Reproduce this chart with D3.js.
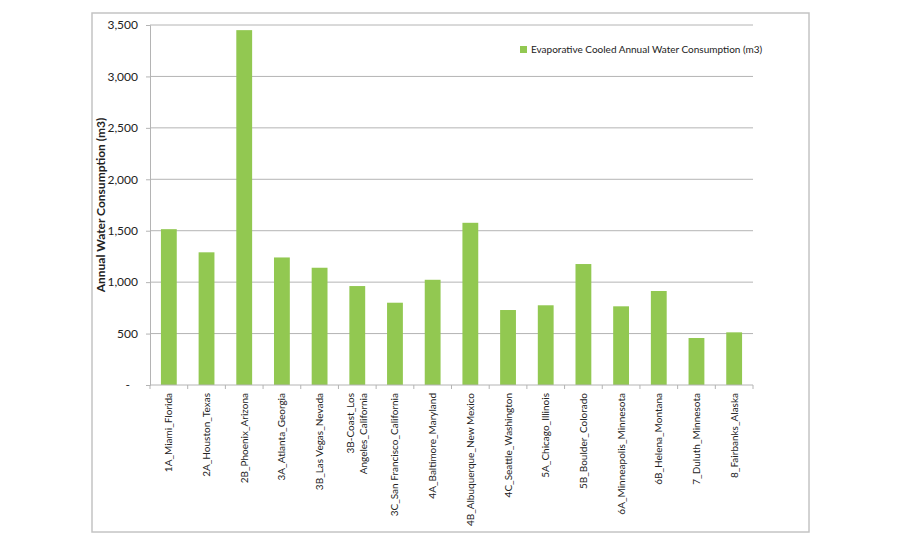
<!DOCTYPE html>
<html>
<head>
<meta charset="utf-8">
<script src="https://cdn.jsdelivr.net/npm/d3@7"></script>
<style>
  body { margin: 0; background: #fff; }
  svg text { font-family: Lato, "Open Sans", sans-serif; fill: #222; }
</style>
</head>
<body>
<div id="chart"></div>
<script>
// categories (climate zone_city_state)
var cities = ["1A_Miami_Florida", "2A_Houston_Texas", "2B_Phoenix_Arizona", "3A_Atlanta_Georgia",
    "3B_Las Vegas_Nevada", "3B-Coast_Los Angeles_California", "3C_San Francisco_California",
    "4A_Baltimore_Maryland", "4B_Albuquerque_New Mexico", "4C_Seattle_Washington",
    "5A_Chicago_Illinois", "5B_Boulder_Colorado", "6A_Minneapolis_Minnesota",
    "6B_Helena_Montana", "7_Duluth_Minnesota", "8_Fairbanks_Alaska"];
// evaporative cooled annual water consumption (m3)
var waterUse = [1515, 1290, 3450, 1240, 1140, 962, 800, 1023, 1577, 729, 775, 1176, 765, 914, 457, 512];
var yTicks = [0, 500, 1000, 1500, 2000, 2500, 3000, 3500];
var seriesName = "Evaporative Cooled Annual Water Consumption (m3)";
var yTitle = "Annual Water Consumption (m3)";

var width = 900, height = 550;
var plotLeft = 150, plotRight = 753, plotTop = 25, plotBottom = 385;
var green = "#92c851", grid = "#b4b4b4";

var svg = d3.select("#chart").append("svg")
    .attr("width", width)
    .attr("height", height);

// outer chart border
svg.append("rect")
    .attr("x", 92).attr("y", 13)
    .attr("width", 717).attr("height", 519)
    .attr("fill", "none")
    .attr("stroke", "#c4c4c4")
    .attr("stroke-width", 1.5);

var x = d3.scaleBand()
    .domain(cities)
    .range([plotLeft, plotRight])
    .paddingInner(0.58)
    .paddingOuter(0.29);

var y = d3.scaleLinear()
    .domain([0, 3500])
    .range([plotBottom, plotTop]);

// gridlines
svg.append("g")
    .selectAll("line")
    .data(yTicks.filter(function(d) { return d > 0; }))
    .enter()
    .append("line")
    .attr("x1", plotLeft).attr("x2", plotRight)
    .attr("y1", function(d) { return y(d); })
    .attr("y2", function(d) { return y(d); })
    .attr("stroke", grid)
    .attr("stroke-width", 1);

// y axis
var yAxis = d3.axisLeft(y)
    .tickValues(yTicks)
    .tickSize(4)
    .tickPadding(8)
    .tickFormat(function(d) { return d === 0 ? "-" : d3.format(",")(d); });

var gy = svg.append("g")
    .attr("transform", "translate(" + plotLeft + ",0)")
    .call(yAxis);
gy.selectAll("line, path").attr("stroke", grid);
gy.selectAll("text").attr("font-size", 12).attr("fill", "#222").attr("font-family", "Lato, sans-serif");
gy.select(".tick text").attr("dx", -8);

// bars
svg.selectAll("rect.bar")
    .data(waterUse)
    .enter()
    .append("rect")
    .attr("class", "bar")
    .attr("x", function(d, i) { return x(cities[i]); })
    .attr("y", function(d) { return y(d); })
    .attr("width", x.bandwidth())
    .attr("height", function(d) { return plotBottom - y(d); })
    .attr("fill", green);

// x axis: baseline and ticks between categories
var gx = svg.append("g");
gx.append("line")
    .attr("x1", plotLeft).attr("x2", plotRight)
    .attr("y1", plotBottom).attr("y2", plotBottom)
    .attr("stroke", grid);
gx.selectAll("line.tick")
    .data(d3.range(cities.length + 1))
    .enter()
    .append("line")
    .attr("class", "tick")
    .attr("x1", function(i) { return plotLeft + (plotRight - plotLeft) * i / cities.length; })
    .attr("x2", function(i) { return plotLeft + (plotRight - plotLeft) * i / cities.length; })
    .attr("y1", plotBottom).attr("y2", plotBottom + 4)
    .attr("stroke", grid);

// category labels, rotated
var labels = svg.append("g")
    .selectAll("text")
    .data(cities)
    .enter()
    .append("text")
    .attr("transform", function(d) {
        return "translate(" + (x(d) + x.bandwidth() / 2) + "," + (plotBottom + 8) + ") rotate(-90)";
    })
    .attr("text-anchor", "end")
    .attr("font-size", 10);

labels.each(function(d) {
    var t = d3.select(this);
    if (d === "3B-Coast_Los Angeles_California") {
        t.append("tspan").attr("x", 0).attr("dy", "-0.3em").text("3B-Coast_Los");
        t.append("tspan").attr("x", 0).attr("dy", "1.3em").text("Angeles_California");
    } else {
        t.append("tspan").attr("x", 0).attr("dy", "0.35em").text(d);
    }
});

// y axis title
svg.append("text")
    .attr("transform", "translate(105," + ((plotTop + plotBottom) / 2) + ") rotate(-90)")
    .attr("text-anchor", "middle")
    .attr("font-size", 12)
    .attr("font-weight", "bold")
    .text(yTitle);

// legend
svg.append("rect")
    .attr("x", 520).attr("y", 46)
    .attr("width", 7).attr("height", 7)
    .attr("fill", green);
svg.append("text")
    .attr("x", 531).attr("y", 53)
    .attr("font-size", 10)
    .text(seriesName);
</script>
</body>
</html>
